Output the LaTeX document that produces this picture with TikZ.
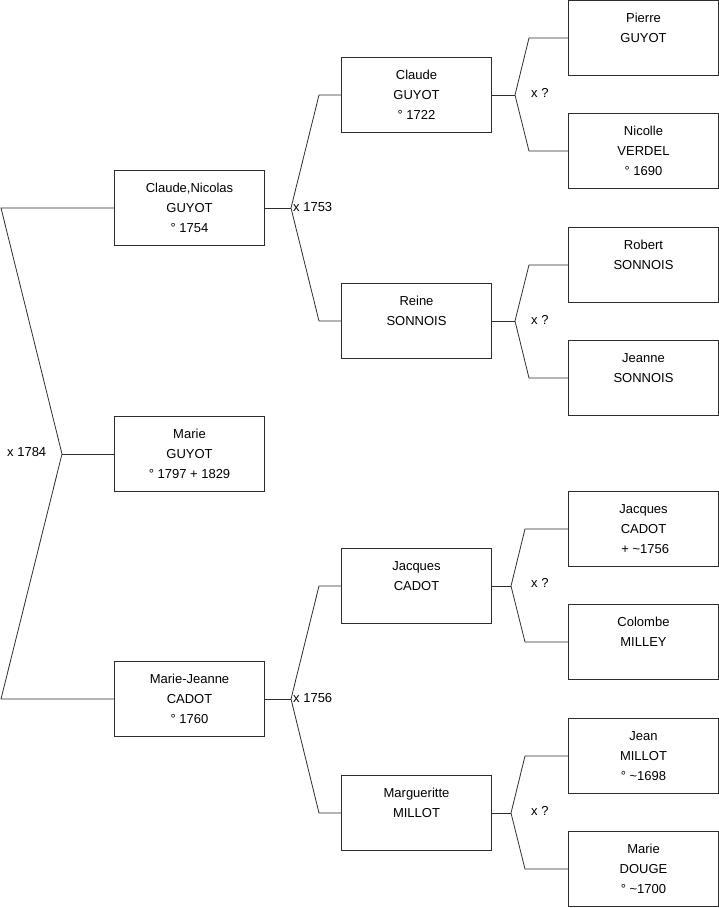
\documentclass[tikz,border=0pt]{standalone}
\usepackage{fontspec}
\setmainfont{Liberation Sans}
\definecolor{ln}{RGB}{45,45,45}
\begin{document}
\begin{tikzpicture}[x=1pt,y=-1pt,
  box/.style={draw=ln,line width=1pt,rectangle,minimum width=150pt,minimum height=75pt,inner sep=0pt,align=center,font=\fontsize{13}{19.8}\selectfont},
  lbl/.style={inner sep=0pt,font=\fontsize{13}{15}\selectfont,anchor=west},
  conn/.style={draw=ln,line width=0.8pt}]
\useasboundingbox (0,0) rectangle (719,908);
% left column
\node[box] (cn) at (189.5,208) {Claude,Nicolas\\GUYOT\\° 1754};
\node[box] (mg) at (189.5,454) {Marie\\GUYOT\\° 1797 + 1829};
\node[box] (mj) at (189.5,699) {Marie-Jeanne\\CADOT\\° 1760};
% middle column
\node[box] (cg) at (416.5,95) {Claude\\GUYOT\\° 1722};
\node[box] (rs) at (416.5,321) {Reine\\SONNOIS\\\mbox{}};
\node[box] (jc) at (416.5,586) {Jacques\\CADOT\\\mbox{}};
\node[box] (mm) at (416.5,813) {Margueritte\\MILLOT\\\mbox{}};
% right column
\node[box] (pg) at (643.5,38) {Pierre\\GUYOT\\\mbox{}};
\node[box] (nv) at (643.5,151) {Nicolle\\VERDEL\\° 1690};
\node[box] (rbs) at (643.5,265) {Robert\\SONNOIS\\\mbox{}};
\node[box] (js) at (643.5,378) {Jeanne\\SONNOIS\\\mbox{}};
\node[box] (jcc) at (643.5,529) {Jacques\\CADOT\\\ + \textasciitilde1756};
\node[box] (cm) at (643.5,642) {Colombe\\MILLEY\\\mbox{}};
\node[box] (jm) at (643.5,756) {Jean\\MILLOT\\° \textasciitilde1698};
\node[box] (md) at (643.5,869) {Marie\\DOUGE\\° \textasciitilde1700};
% joints
\coordinate (j0) at (62,454);
\coordinate (j0u) at (1,208);
\coordinate (j0d) at (1,699);
\coordinate (j1) at (291,208);
\coordinate (j1u) at (319,95);
\coordinate (j1d) at (319,321);
\coordinate (j2) at (291,699);
\coordinate (j2u) at (319,586);
\coordinate (j2d) at (319,813);
\coordinate (j3) at (515,95);
\coordinate (j3u) at (529,38);
\coordinate (j3d) at (529,151);
\coordinate (j4) at (515,321);
\coordinate (j4u) at (529,265);
\coordinate (j4d) at (529,378);
\coordinate (j5) at (511,586);
\coordinate (j5u) at (525,529);
\coordinate (j5d) at (525,642);
\coordinate (j6) at (511,813);
\coordinate (j6u) at (525,756);
\coordinate (j6d) at (525,869);
% connectors
\draw[conn] (mg.west) -- (j0);
\draw[conn] (cn.west) -- (j0u) -- (j0) -- (j0d) -- (mj.west);
\draw[conn] (cn.east) -- (j1);
\draw[conn] (cg.west) -- (j1u) -- (j1) -- (j1d) -- (rs.west);
\draw[conn] (mj.east) -- (j2);
\draw[conn] (jc.west) -- (j2u) -- (j2) -- (j2d) -- (mm.west);
\draw[conn] (cg.east) -- (j3);
\draw[conn] (pg.west) -- (j3u) -- (j3) -- (j3d) -- (nv.west);
\draw[conn] (rs.east) -- (j4);
\draw[conn] (rbs.west) -- (j4u) -- (j4) -- (j4d) -- (js.west);
\draw[conn] (jc.east) -- (j5);
\draw[conn] (jcc.west) -- (j5u) -- (j5) -- (j5d) -- (cm.west);
\draw[conn] (mm.east) -- (j6);
\draw[conn] (jm.west) -- (j6u) -- (j6) -- (j6d) -- (md.west);
% labels
\node[lbl] (l0) at (7,452) {x 1784};
\node[lbl] (l1) at (293,207) {x 1753};
\node[lbl] (l2) at (293,698) {x 1756};
\node[lbl] (l3) at (531,93) {x ?};
\node[lbl] (l4) at (531,320) {x ?};
\node[lbl] (l5) at (531,583) {x ?};
\node[lbl] (l6) at (531,811) {x ?};
\end{tikzpicture}
\end{document}
